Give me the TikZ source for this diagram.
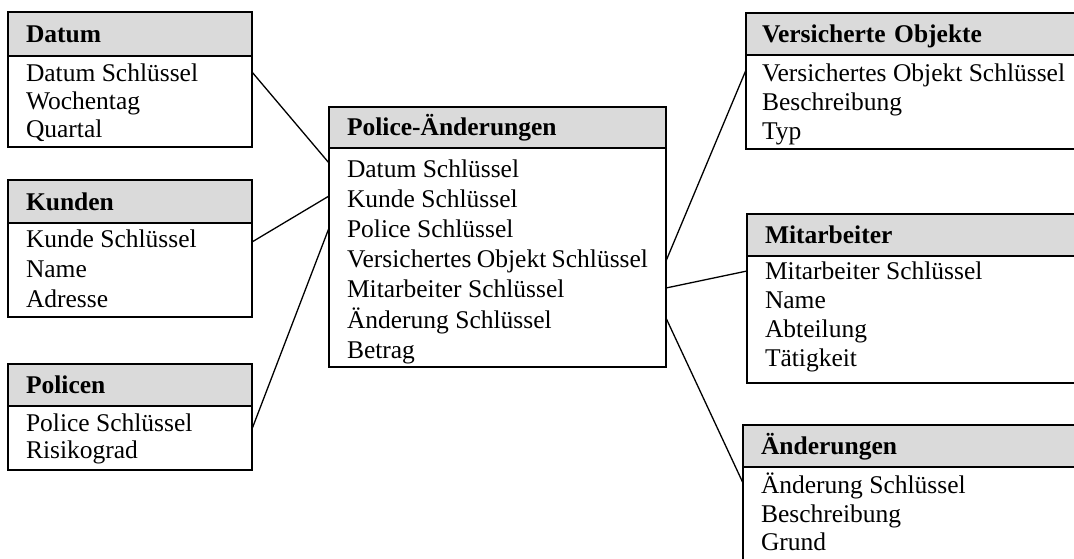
\documentclass[tikz,border=0pt]{standalone}
\usepackage{fontspec}
\setmainfont{Liberation Serif}
\usetikzlibrary{calc}
\definecolor{hdrgray}{RGB}{218,218,218}
% body of an entity: height, width, line skip, first baseline, rows
\newcommand\fieldrows[5]{\parbox[c][#1][t]{#2}{\fontsize{25.5pt}{#3}\selectfont
  \vspace*{\dimexpr#4-0.7\baselineskip\relax}\strut #5}}
\begin{document}
\begin{tikzpicture}[x=1pt,y=-1pt,
  ent/.style={draw, line width=1.3pt, anchor=north west, outer sep=0pt,
    inner ysep=0pt, inner xsep=18pt, font=\fontsize{25.5pt}{30pt}\selectfont},
  hdr/.style={ent, fill=hdrgray, font=\fontsize{25.5pt}{30pt}\selectfont\bfseries,
    align=left, text height=17pt, text depth=0pt},
  sep/.style={line width=2.4pt},
  link/.style={line width=1.3pt}]
\useasboundingbox (0,0) rectangle (1074,559);
\clip (0,0) rectangle (1074,559);

% dimension tables on the left
\node[hdr, text width=208pt, minimum height=44pt] (datumH) at (8,12) {Datum};
\node[ent] (datumB) at (datumH.south west)
  {\fieldrows{91pt}{208pt}{28pt}{26pt}{Datum Schlüssel\\Wochentag\\Quartal}};
\draw[sep] (datumH.south west) -- (datumH.south east);

\node[hdr, text width=208pt, minimum height=43pt] (kundenH) at (8,180) {Kunden};
\node[ent] (kundenB) at (kundenH.south west)
  {\fieldrows{94pt}{208pt}{30pt}{24pt}{Kunde Schlüssel\\Name\\Adresse}};
\draw[sep] (kundenH.south west) -- (kundenH.south east);

\node[hdr, text width=208pt, minimum height=42pt] (policenH) at (8,364) {Policen};
\node[ent] (policenB) at (policenH.south west)
  {\fieldrows{64pt}{208pt}{27.5pt}{25pt}{Police Schlüssel\\Risikograd}};
\draw[sep] (policenH.south west) -- (policenH.south east);

% fact table
\node[hdr, text width=301pt, minimum height=41pt] (centH) at (329,107) {Police-Änderungen};
\node[ent] (centB) at (centH.south west)
  {\fieldrows{219pt}{301pt}{30.2pt}{29pt}{Datum Schlüssel\\Kunde Schlüssel\\Police Schlüssel\\Versichertes Objekt Schlüssel\\Mitarbeiter Schlüssel\\Änderung Schlüssel\\Betrag}};
\draw[sep] (centH.south west) -- (centH.south east);

% dimension tables on the right
\node[hdr, text width=322pt, minimum height=42pt, inner xsep=16pt] (objH) at (746,13) {Versicherte Objekte};
\node[ent, inner xsep=16pt] (objB) at (objH.south west)
  {\fieldrows{94pt}{322pt}{29pt}{27pt}{Versichertes Objekt Schlüssel\\Beschreibung\\Typ}};
\draw[sep] (objH.south west) -- (objH.south east);

\node[hdr, text width=317pt, minimum height=42pt] (mitH) at (747,214) {Mitarbeiter};
\node[ent] (mitB) at (mitH.south west)
  {\fieldrows{127pt}{317pt}{29pt}{23pt}{Mitarbeiter Schlüssel\\Name\\Abteilung\\Tätigkeit}};
\draw[sep] (mitH.south west) -- (mitH.south east);

\node[hdr, text width=321pt, minimum height=42pt] (aendH) at (743,425) {Änderungen};
\node[ent] (aendB) at (aendH.south west)
  {\fieldrows{140pt}{321pt}{28.7pt}{26pt}{Änderung Schlüssel\\Beschreibung\\Grund}};
\draw[sep] (aendH.south west) -- (aendH.south east);

% relationships
\draw[link] ($(datumB.north east)+(0,16)$) -- ($(centB.north west)+(0,15)$);
\draw[link] ($(kundenB.north east)+(0,19)$) -- ($(centB.north west)+(0,48)$);
\draw[link] ($(policenB.north east)+(0,23)$) -- ($(centB.north west)+(0,80)$);
\draw[link] ($(centB.north east)+(0,113)$) -- ($(objB.north west)+(0,15)$);
\draw[link] ($(centB.north east)+(0,140)$) -- ($(mitB.north west)+(0,15)$);
\draw[link] ($(centB.north east)+(0,170)$) -- ($(aendB.north west)+(0,16)$);
\end{tikzpicture}
\end{document}
